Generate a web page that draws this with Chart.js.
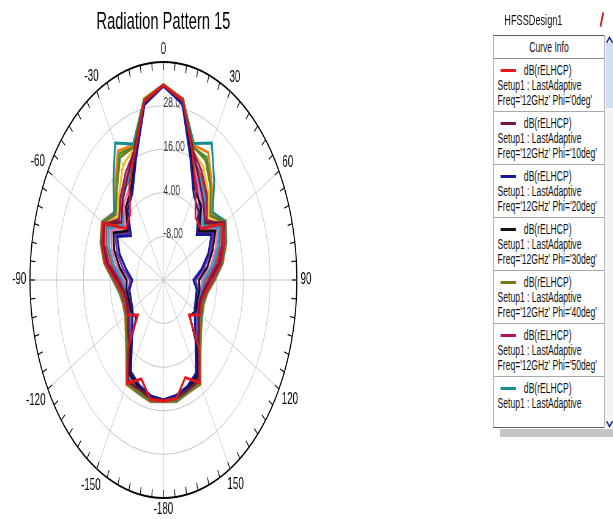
<!DOCTYPE html>
<html>
<head>
<meta charset="utf-8">
<title>Radiation Pattern 15</title>
<script src="https://cdn.jsdelivr.net/npm/chart.js@4.4.1/dist/chart.umd.min.js"></script>
<style>
  html, body { margin: 0; padding: 0; background: #fff; overflow: hidden; width: 613px; height: 519px; }
  /* the whole report view is laid out wide and compressed horizontally */
  #page { position: absolute; left: 0; top: 0; width: 1002px; height: 519px;
          transform: scaleX(0.612); transform-origin: 0 0;
          font-family: "Liberation Sans", Arial, sans-serif; color: #111; }
  #plot { position: absolute; left: 0; top: 0; }
  #design { position: absolute; left: 824px; top: 10px; font-size: 15px; line-height: 20px; color: #111; }
  #logo { position: absolute; left: 982px; top: 12px; width: 3px; height: 15px; background: #d62020; transform: rotate(18deg); }
  #legend { position: absolute; left: 806px; top: 35px; width: 182px; height: 393px;
            box-sizing: border-box; border: 1px solid #5c5c5c; background: #fff; }
  #lhead { height: 22px; line-height: 22px; text-align: center; font-size: 14px; border-bottom: 1px solid #8a8a8a; }
  #lbody { height: 353px; overflow: hidden; }
  .entry { position: relative; height: 52px; border-bottom: 1px solid #a8a8a8; font-size: 14px; line-height: 15px; }
  .entry .sw { position: absolute; left: 11px; top: 10px; width: 25px; height: 3px; }
  .entry .l1 { position: absolute; left: 49px; top: 4px; white-space: nowrap; }
  .entry .l2 { position: absolute; left: 6px; top: 19px; white-space: nowrap; }
  .entry .l3 { position: absolute; left: 6px; top: 34px; white-space: nowrap; }
  #scroll { position: absolute; left: 988px; top: 35px; width: 14px; height: 393px; background: #f4f4f4; }
  #thumb { position: absolute; left: 2px; top: 8px; width: 12px; height: 65px; background: #cfdff5; }
  .chev { position: absolute; left: 4px; width: 6px; height: 6px; border-left: 2px solid #1b2f8a; border-top: 2px solid #1b2f8a; }
  #up { top: 3px; transform: rotate(45deg); }
  #down { top: 383px; transform: rotate(225deg); }
  #shadow { position: absolute; left: 817px; top: 429px; width: 185px; height: 8px; background: #c4c4c4; }
</style>
</head>
<body>
<div id="page">
  <canvas id="plot" width="540" height="519"></canvas>
  <div id="design">HFSSDesign1</div>
  <div id="logo"></div>
  <div id="legend">
    <div id="lhead">Curve Info</div>
    <div id="lbody"></div>
  </div>
  <div id="scroll"><div id="thumb"></div><div class="chev" id="up"></div><div class="chev" id="down"></div></div>
  <div id="shadow"></div>
</div>
<script>
// Theta sample angles (degrees), clockwise from the top of the plot
const thetaDeg = [0, 10, 20, 30, 40, 50, 60, 70, 80, 90, 100, 110, 120, 130, 140, 150, 160, 170,
                  -180, -170, -160, -150, -140, -130, -120, -110, -100, -90, -80, -70, -60, -50, -40, -30, -20, -10];

// Phi cuts of the swept far-field (degrees)
const phiDeg = [0, 10, 20, 30, 40, 50, 60, 70, 80, 90, 100, 110, 120, 130];

// Radial grid labels (dB)
const ringTicks = [-8, 4, 16, 28];

// dB(rELHCP) per phi cut, at each theta above
const gainPhi0 = [33.7, 30.2, 17.8, 9.0, 2.5, 2.0, 11.0, 9.2, 6.4, 2.2, -0.6, -1.8, -0.8, -5.0, 5.2, 12.6, 8.6, 13.2,
                  13.3, 13.4, 9.0, 12.8, 5.0, -5.0, -0.9, -1.5, -0.8, 1.9, 6.6, 9.6, 11.4, 2.0, 3.4, 10.6, 17.4, 30.0];
const gainPhi10 = [33.6, 30.0, 18.5, 12.0, 8.0, 4.5, 11.5, 9.0, 5.5, 1.0, -1.5, -2.5, -1.5, 1.0, 4.5, 12.0, 12.2, 13.0,
                   13.2, 13.1, 12.0, 12.3, 4.2, 0.8, -1.6, -2.4, -1.8, 0.8, 5.6, 9.0, 11.0, 4.8, 8.5, 12.5, 18.2, 29.8];
const gainPhi20 = [33.4, 29.2, 15.5, 7.2, 4.6, -0.5, 5.0, 1.5, -2.5, -6.5, -4.8, -4.6, -3.8, -1.5, 2.5, 9.5, 11.2, 12.3,
                   13.0, 12.4, 11.0, 9.2, 2.0, -1.8, -4.0, -4.5, -4.5, -6.0, -3.0, 1.0, 4.0, -1.0, 5.0, 7.8, 15.8, 29.0];
const gainPhi30 = [33.5, 29.5, 16.5, 8.5, 6.5, 1.0, 7.0, 3.5, 0.0, -4.0, -3.5, -3.8, -3.0, -4.5, 3.2, 10.5, 11.8, 12.6,
                   13.1, 12.7, 11.5, 10.2, 3.0, -4.0, -3.0, -3.5, -3.2, -3.5, 0.0, 3.5, 6.0, 1.0, 6.2, 9.0, 16.8, 29.4];
const gainPhi40 = [33.7, 30.4, 19.2, 18.0, 13.0, 7.5, 11.8, 9.6, 6.5, 2.6, -0.2, -1.2, -0.5, 1.8, 5.5, 12.8, 12.6, 13.5,
                   13.4, 13.6, 12.7, 13.0, 5.4, 1.7, -0.6, -1.2, -0.4, 2.2, 6.8, 9.8, 11.6, 8.0, 12.5, 19.0, 19.0, 30.3];
const gainPhi50 = [33.6, 30.1, 18.2, 14.5, 10.5, 5.5, 10.5, 8.0, 4.5, 0.2, -2.0, -2.8, -2.0, 0.5, 4.0, 11.5, 12.0, 12.9,
                   13.2, 13.0, 11.8, 11.8, 3.8, 0.3, -2.0, -2.8, -2.2, 0.0, 4.8, 8.2, 10.5, 6.0, 10.0, 14.0, 18.0, 29.9];
const gainPhi60 = [33.7, 30.5, 20.0, 23.5, 15.5, 9.0, 12.2, 10.0, 7.0, 3.0, 0.0, -0.8, 0.0, 2.0, 5.8, 13.0, 12.8, 13.8,
                   13.4, 13.8, 13.0, 13.0, 5.8, 2.0, -0.3, -0.8, 0.0, 2.6, 7.0, 10.0, 11.8, 8.8, 15.0, 23.5, 19.8, 30.4];
const gainPhi70 = [33.8, 30.6, 19.5, 20.5, 14.0, 8.5, 12.4, 10.2, 7.2, 3.2, 0.2, -0.6, 0.2, 2.2, 6.0, 13.2, 13.0, 14.0,
                   13.5, 14.0, 13.2, 13.2, 6.0, 2.2, -0.1, -0.6, 0.2, 2.8, 7.2, 10.2, 12.0, 9.0, 14.0, 21.0, 19.5, 30.6];
const gainPhi80 = [33.4, 29.4, 16.0, 10.0, 5.5, 0.5, 6.0, 2.5, -1.5, -5.5, -4.2, -4.2, -3.5, -1.0, 2.8, 10.0, 11.5, 12.5,
                   13.0, 12.5, 11.2, 9.8, 2.6, -1.2, -3.5, -4.0, -4.0, -5.0, -1.5, 2.2, 5.0, 0.0, 6.0, 8.2, 16.2, 29.2];
const gainPhi90 = [33.5, 29.7, 17.0, 12.5, 9.0, 3.0, 9.0, 6.0, 2.5, -1.8, -2.6, -3.2, -2.5, 0.0, 3.8, 11.2, 11.9, 12.8,
                   13.2, 12.9, 11.7, 11.0, 3.6, 0.0, -2.4, -3.0, -2.8, -1.5, 2.5, 6.0, 8.5, 3.5, 9.0, 11.5, 17.2, 29.6];
const gainPhi100 = [33.6, 30.0, 18.0, 16.0, 11.5, 6.0, 10.8, 8.5, 5.0, 0.8, -1.2, -2.0, -1.2, 1.2, 4.8, 12.2, 12.3, 13.2,
                    13.3, 13.3, 12.2, 12.4, 4.6, 1.0, -1.4, -2.0, -1.4, 1.0, 5.5, 8.8, 10.8, 6.8, 11.0, 16.5, 18.4, 30.0];
const gainPhi110 = [33.6, 29.9, 17.5, 11.0, 7.0, 2.0, 8.0, 5.0, 1.5, -2.8, -3.0, -3.5, -2.8, -0.2, 3.5, 10.8, 11.7, 12.7,
                    13.1, 12.8, 11.6, 10.6, 3.3, -0.3, -2.6, -3.2, -3.0, -2.5, 1.2, 4.8, 7.2, 2.5, 7.5, 10.0, 17.0, 29.7];
const gainPhi120 = [33.7, 30.3, 18.8, 19.0, 13.5, 8.0, 11.6, 9.4, 6.2, 2.2, -0.4, -1.4, -0.6, 1.6, 5.2, 12.6, 12.5, 13.4,
                    13.4, 13.5, 12.5, 12.8, 5.2, 1.5, -0.8, -1.4, -0.6, 2.0, 6.5, 9.6, 11.5, 8.2, 13.5, 20.0, 19.2, 30.2];
const gainPhi130 = [33.5, 29.6, 16.8, 13.5, 9.8, 3.8, 9.5, 7.0, 3.5, -1.0, -2.3, -3.0, -2.2, 0.2, 4.0, 11.4, 12.0, 12.9,
                    13.2, 13.0, 11.9, 11.4, 3.9, 0.2, -2.2, -2.8, -2.5, -0.8, 3.5, 7.2, 9.5, 4.5, 9.5, 12.8, 17.6, 29.7];

const traceColors = ['#e3161b', '#6d1a3e', '#16189a', '#111111', '#77771c', '#b3125c', '#128e8e',
                     '#f07d12', '#7630b0', '#1f9fd8', '#d9c51e', '#ef6fae', '#2e9b3c', '#9b5b2a'];

const traces = [gainPhi0, gainPhi10, gainPhi20, gainPhi30, gainPhi40, gainPhi50, gainPhi60,
                gainPhi70, gainPhi80, gainPhi90, gainPhi100, gainPhi110, gainPhi120, gainPhi130];

const FONT = '"Liberation Sans", Arial, sans-serif';

// Rim ticks, ring labels, angle labels and the title
const polarDecor = {
  id: 'polarDecor',
  beforeDatasetsDraw(chart) {
    const s = chart.scales.r;
    const ctx = chart.ctx;
    const R = s.drawingArea;
    ctx.save();
    ctx.strokeStyle = '#000';
    ctx.lineWidth = 1.2;
    for (let a = 0; a < 360; a += 5) {
      const t = a * Math.PI / 180;
      ctx.beginPath();
      ctx.moveTo(s.xCenter + Math.sin(t) * R, s.yCenter - Math.cos(t) * R);
      ctx.lineTo(s.xCenter + Math.sin(t) * (R - 8), s.yCenter - Math.cos(t) * (R - 8));
      ctx.stroke();
    }
    ctx.font = '14px ' + FONT;
    ctx.fillStyle = '#333';
    ctx.textAlign = 'left';
    ctx.textBaseline = 'middle';
    ringTicks.forEach((v) => {
      const d = s.getDistanceFromCenterForValue(v);
      ctx.fillText(v.toFixed(2), s.xCenter, s.yCenter - d - 2);
    });
    ctx.restore();
  },
  afterDraw(chart) {
    const s = chart.scales.r;
    const ctx = chart.ctx;
    const R = s.drawingArea;
    ctx.save();
    ctx.fillStyle = '#000';
    ctx.textAlign = 'center';
    ctx.textBaseline = 'middle';
    ctx.font = '16px ' + FONT;
    thetaDeg.forEach((deg, i) => {
      if (deg % 30 !== 0) return;
      const txt = String(deg);
      const w = ctx.measureText(txt).width;
      const t = s.getIndexAngle(i);
      const d = R + 6 + Math.abs(Math.sin(t)) * w / 2 + Math.abs(Math.cos(t)) * 6;
      const p = s.getPointPosition(i, d);
      ctx.fillText(txt, p.x, p.y);
    });
    ctx.font = '24px ' + FONT;
    ctx.fillText('Radiation Pattern 15', s.xCenter, 22);
    ctx.restore();
  }
};

new Chart(document.getElementById('plot'), {
  type: 'radar',
  data: {
    labels: thetaDeg.map(String),
    datasets: traces.map((vals, k) => ({
      label: "dB(rELHCP) Phi='" + phiDeg[k] + "deg'",
      data: vals,
      borderColor: traceColors[k],
      backgroundColor: traceColors[k],
      borderWidth: 3,
      pointRadius: 0,
      fill: false,
      tension: 0
    }))
  },
  options: {
    responsive: false,
    animation: false,
    layout: { padding: { top: 62, bottom: 21, left: 49, right: 55 } },
    plugins: { legend: { display: false }, tooltip: { enabled: false }, title: { display: false } },
    scales: {
      r: {
        min: -20,
        max: 40,
        startAngle: 0,
        ticks: { display: false, stepSize: 12 },
        pointLabels: { display: false },
        grid: {
          circular: true,
          color: (c) => (c.tick && c.tick.value === 40 ? '#000' : '#c4c4c4'),
          lineWidth: (c) => (c.tick && c.tick.value === 40 ? 1.8 : 1)
        },
        angleLines: {
          display: true,
          color: (c) => (c.index % 3 === 0 ? '#c8c8c8' : 'rgba(0,0,0,0)'),
          lineWidth: 1
        }
      }
    }
  },
  plugins: [polarDecor]
});

// Curve info list
const body = document.getElementById('lbody');
phiDeg.forEach((phi, k) => {
  const e = document.createElement('div');
  e.className = 'entry';
  e.innerHTML = '<div class="sw" style="background:' + traceColors[k] + '"></div>' +
    '<div class="l1">dB(rELHCP)</div>' +
    '<div class="l2">Setup1 : LastAdaptive</div>' +
    "<div class=\"l3\">Freq='12GHz' Phi='" + phi + "deg'</div>";
  body.appendChild(e);
});
</script>
</body>
</html>
